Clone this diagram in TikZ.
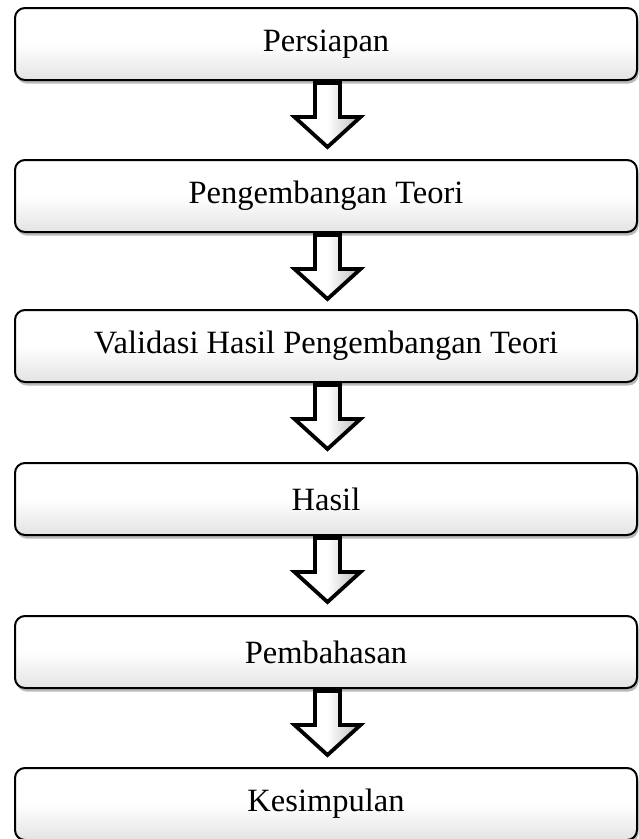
\documentclass[tikz,border=0pt]{standalone}
\usepackage{fontspec}
\setmainfont{Liberation Serif}
\usetikzlibrary{shadows,calc}
\tikzset{
  stepbox/.style={draw=black, line width=2pt, rounded corners=10pt,
    minimum width=622pt, minimum height=72pt, inner sep=0pt,
    top color=white, bottom color=gray!22, middle color=white,
    drop shadow={shadow xshift=1.5pt, shadow yshift=-3.5pt, opacity=0.45, fill=black!60},
    font=\fontsize{32.5}{38}\selectfont},
  blockarrow/.style={draw=black, line width=3.8pt, line join=miter,
    left color=white, right color=gray!55, middle color=white}
}
\begin{document}
\begin{tikzpicture}[x=1pt,y=-1pt]
\useasboundingbox[fill=white] (0,0) rectangle (638,839);
\node[stepbox] (b1) at (326,44) {Persiapan};
\node[stepbox] (b2) at (326,196) {Pengembangan Teori};
\node[stepbox] (b3) at (326,346) {Validasi Hasil Pengembangan Teori};
\node[stepbox] (b4) at (326,499) {Hasil};
\node[stepbox] (b5) at (326,652) {Pembahasan};
\node[stepbox] (b6) at (326,804) {Kesimpulan};
\foreach \a in {b1,b2,b3,b4,b5}{
  \draw[blockarrow] ($(\a.south)+(1.5,2)$) ++(-12.5,0) -- ++(0,34) -- ++(-20.5,0)
     -- ++(33,30) -- ++(33,-30) -- ++(-20.5,0) -- ++(0,-34) -- cycle;
}
\end{tikzpicture}
\end{document}
